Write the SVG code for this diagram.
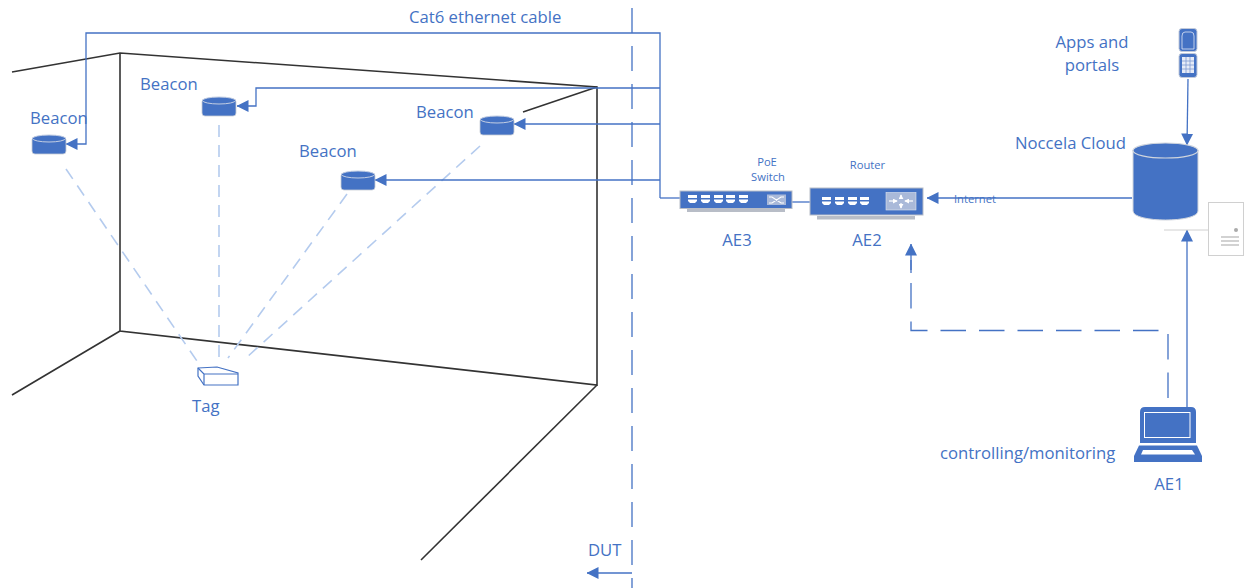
<svg xmlns="http://www.w3.org/2000/svg" width="1247" height="588" viewBox="0 0 1247 588">
<style>
text{font-family:"Open Sans","Noto Sans","Liberation Sans",sans-serif;fill:#4472c4}
.l{font-size:16.700px}.s{font-size:11.200px}
.wall{fill:none;stroke:#333;stroke-width:1.6}
.c{fill:none;stroke:#4472c4;stroke-width:1.300}
.d{fill:none;stroke:#b4cbee;stroke-width:1.600;stroke-dasharray:12 8}
</style>
<defs>
<marker id="a" viewBox="0 0 12 12" refX="11.500" refY="6" markerWidth="12" markerHeight="12" markerUnits="userSpaceOnUse" orient="auto"><path d="M0 0L12 6L0 12Z" fill="#4472c4"/></marker>
<g id="bcn"><rect x="0" y="3" width="34" height="17" rx="3" fill="#4472c4" stroke="#c8cdd6" stroke-width=".8"/><ellipse cx="17" cy="4.500" rx="16.500" ry="3.500" fill="#4472c4" stroke="#c3cee3" stroke-width="1"/></g>
<g id="port"><path d="M0 0h9v3h-9zM0 4.500h9v1.500l-2 2h-5l-2-2z" fill="#fff"/></g>
<marker id="w" viewBox="0 0 6 6" refX="5" refY="3" markerWidth="5" markerHeight="5" markerUnits="userSpaceOnUse" orient="auto"><path d="M0 0L6 3L0 6Z" fill="#fff"/></marker>
</defs>
<g id="walls">
<path class="wall" d="M12 72L120 53L597 87V385L120 331V53"/>
<path class="wall" d="M12 395L120 331"/>
<path class="wall" d="M597 385L421 560"/>
<path class="wall" d="M523 112L597 87"/>
</g>
<g id="connectors">
<path class="d" d="M66 169L199 364"/>
<path class="d" d="M219 125V360"/>
<path class="d" d="M347 194L228 358"/>
<path class="d" d="M480 146L246 358"/>
<path d="M632 8V588" fill="none" stroke="#4472c4" stroke-width="1.300" stroke-dasharray="25 13"/>
<path class="c" d="M660 198V33H86V144H66" marker-end="url(#a)"/>
<path class="c" d="M660 88H256V106H237" marker-end="url(#a)"/>
<path class="c" d="M660 124H514" marker-end="url(#a)"/>
<path class="c" d="M660 180H375" marker-end="url(#a)"/>
<path class="c" d="M660 198H680"/>
<path class="c" d="M792 202H810"/>
<path class="c" d="M1132 198H927" marker-end="url(#a)"/>
<path class="c" d="M1188 79L1187 145" marker-end="url(#a)"/>
<path class="c" d="M1187 408V230" marker-end="url(#a)"/>
<path class="c" d="M1168 408V330.500H911V260" stroke-dasharray="25.500 13" stroke-dashoffset="28.500"/>
<path class="c" d="M911 273V244" marker-end="url(#a)"/>
<path class="c" d="M632 573H587" marker-end="url(#a)"/>
</g>
<g id="beacon1"><use href="#bcn" x="32" y="134"/><text class="l" x="30" y="124">Beacon</text></g>
<g id="beacon2"><use href="#bcn" x="202" y="96"/><text class="l" x="140" y="90">Beacon</text></g>
<g id="beacon3"><use href="#bcn" x="341" y="170"/><text class="l" x="299" y="157">Beacon</text></g>
<g id="beacon4"><use href="#bcn" x="480" y="115"/><text class="l" x="416" y="118">Beacon</text></g>
<g id="tag">
<path d="M198 368L217 367L238 373V385H204L198 376Z" fill="#fff" stroke="#4472c4" stroke-width="1.200"/>
<path d="M198 368L204 374V385M204 374H238" fill="none" stroke="#4472c4" stroke-width="1.200"/>
<text class="l" x="192" y="412">Tag</text>
</g>
<g id="switch">
<rect x="687" y="209" width="98" height="3" fill="#b8bdc7"/>
<rect x="680" y="191" width="112" height="17.500" fill="#4472c4" stroke="#b8bdc7" stroke-width="1"/>
<use href="#port" x="688" y="195"/><use href="#port" x="701" y="195"/><use href="#port" x="714" y="195"/><use href="#port" x="726" y="195"/><use href="#port" x="739" y="195"/>
<rect x="767" y="194.500" width="19" height="10.500" fill="#a9b9d9"/>
<path d="M769 197H772L781 203H784M769 203H772L781 197H784" fill="none" stroke="#fff" stroke-width="1.100"/>
<text class="s" x="767" y="166" text-anchor="middle">PoE</text>
<text class="s" x="768" y="181" text-anchor="middle">Switch</text>
<text class="l" x="737" y="246" text-anchor="middle">AE3</text>
</g>
<g id="router">
<rect x="817" y="216" width="98" height="3.500" fill="#b8bdc7"/>
<rect x="810" y="188" width="113" height="27" fill="#4472c4" stroke="#b8bdc7" stroke-width="1"/>
<use href="#port" x="822" y="197"/><use href="#port" x="835" y="197"/><use href="#port" x="848" y="197"/><use href="#port" x="860" y="197"/>
<rect x="886" y="192.500" width="30" height="17.500" fill="#a9b9d9" stroke="#dfe4ee" stroke-width=".6"/>
<path d="M889 201H897" stroke="#fff" stroke-width="1.200" marker-end="url(#w)"/>
<path d="M913 201H905" stroke="#fff" stroke-width="1.200" marker-end="url(#w)"/>
<path d="M901 199V195" stroke="#fff" stroke-width="1.200" marker-end="url(#w)"/>
<path d="M901 203V208" stroke="#fff" stroke-width="1.200" marker-end="url(#w)"/>
<text class="s" x="867.500" y="169" text-anchor="middle">Router</text>
<text class="l" x="867" y="246" text-anchor="middle">AE2</text>
</g>
<text id="internet" class="s" x="954" y="203">Internet</text>
<text id="cable" class="l" x="409" y="23">Cat6 ethernet cable</text>
<text id="dut" class="l" x="588" y="556">DUT</text>
<g id="phone">
<rect x="1179" y="28.500" width="18" height="23" rx="3" fill="#4472c4" stroke="#c3cbdb"/>
<path d="M1182 49V36Q1182 32 1185 32H1191Q1194 32 1194 36V49Z" fill="#4472c4" stroke="#dfe6f5" stroke-width=".8"/>
<rect x="1179" y="53.500" width="18" height="24" rx="3" fill="#4472c4" stroke="#c3cbdb"/>
<path d="M1182 57H1194V73H1182Z" fill="#e6ebf7"/>
<path d="M1186 57V73M1190 57V73M1182 61H1194M1182 65H1194M1182 69H1194" stroke="#7f9ad2" stroke-width=".8"/>
<text class="l" x="1092" y="48" text-anchor="middle">Apps and</text>
<text class="l" x="1092" y="71" text-anchor="middle">portals</text>
</g>
<g id="server">
<rect x="1208.500" y="202.500" width="35" height="53" fill="#fff" stroke="#d0d0d0"/>
<path d="M1164 230H1208" stroke="#d0d0d0" stroke-width="1"/>
<circle cx="1236" cy="230" r="2" fill="#aaa"/>
<path d="M1221 237H1239M1221 241H1239M1221 245H1239" stroke="#c4c4c4" stroke-width="1.600"/>
</g>
<g id="cloud">
<path d="M1133 150V211C1133 223 1198 223 1198 211V150Z" fill="#4472c4" stroke="#d0d5dd"/>
<ellipse cx="1165.500" cy="150.500" rx="32.500" ry="7.500" fill="#4472c4" stroke="#d0d5dd" stroke-width="1.200"/>
<text class="l" x="1015" y="149">Noccela Cloud</text>
</g>
<g id="laptop">
<path d="M1145 407H1191Q1196 407 1196 412V443H1140V412Q1140 407 1145 407Z" fill="#4472c4"/>
<rect x="1144.500" y="412.500" width="45.500" height="25" fill="none" stroke="#fff" stroke-width="1"/>
<path d="M1139 445.500H1197L1202 456V462H1134V456Z" fill="#4472c4"/>
<path d="M1143 450H1192L1195 454.500H1141Z" fill="#fff"/>
<text class="l" x="940" y="459">controlling/monitoring</text>
<text class="l" x="1169" y="490" text-anchor="middle">AE1</text>
</g>
</svg>
